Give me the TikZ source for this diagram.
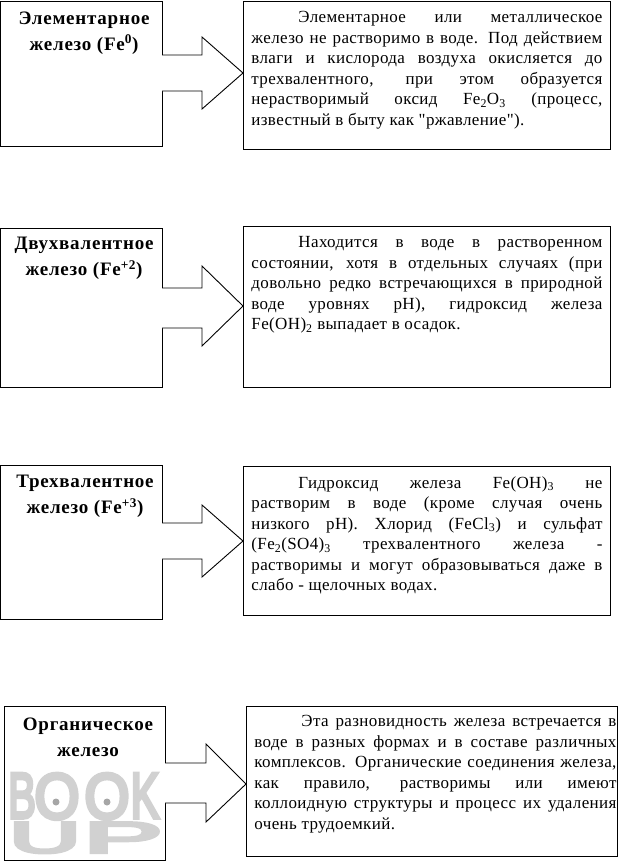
\documentclass[tikz,border=0pt]{standalone}
\usepackage{fontspec}
\setmainfont{Liberation Serif}
\newfontfamily\logofont[FakeBold=6]{Liberation Sans}
\newfontfamily\kindfont[LetterSpace=4]{Liberation Serif Bold}
\newfontfamily\notefont[LetterSpace=2.2]{Liberation Serif}
\begin{document}
\begin{tikzpicture}[x=1pt, y=-1pt, line width=0.9pt]

	\tikzset{
		cell/.style={draw, anchor=north west, inner sep=0pt},
		kind/.style={anchor=north, align=center, inner sep=0pt, font=\fontsize{19}{26}\kindfont},
		note/.style={anchor=north west, inner sep=0pt, text width=351pt, align=justify, font=\fontsize{17}{20.5}\notefont},
		logo/.style={anchor=north, inner sep=0pt, text=black!18, font=\logofont},
		hole/.style={circle, fill=white, minimum size=24pt, inner sep=0pt},
		eye/.style={circle, fill=black!35, minimum size=7pt, inner sep=0pt}
	}

	% ---------------------------
	% Helper macro: block arrow from left cell to right cell
	% (#1 left x, #2 neck x, #3 tip x, #4 tip y, #5 head top, #6 head bottom, #7 shaft top, #8 shaft bottom)
	% ---------------------------
	\newcommand{\drawfeed}[8]{%
		\draw[fill=white] (#1,#7) -- (#2,#7) -- (#2,#5) -- (#3,#4) -- (#2,#6) -- (#2,#8) -- (#1,#8);
	}

	\useasboundingbox (0,0) rectangle (629,863);

	% ---------------------------
	% Watermark
	% ---------------------------
	\foreach \i/\ch/\lx/\sx in {1/B/22/0.8, 2/O/57/1.12, 3/O/107/1.12, 4/K/145/0.82} {
		\node[logo, xscale=\sx, yscale=1.24] (logo\i) at (\lx,773) {\fontsize{52}{52}\selectfont \ch};
	}
	\foreach \i/\ch/\lx/\sx in {5/U/45/2.25, 6/P/123/2.7} {
		\node[logo, xscale=\sx, yscale=1.0] (logo\i) at (\lx,822) {\fontsize{44}{44}\selectfont \ch};
	}
	\node[hole] (holeA) at (57,799) {};
	\node[hole] (holeB) at (107,799) {};
	\node[eye] (eyeA) at (56,802) {};
	\node[eye] (eyeB) at (107,802) {};

	% ---------------------------
	% Left cells
	% ---------------------------
	\node[cell, minimum width=162pt, minimum height=145pt] (elem) at (0,1) {};
	\node[cell, minimum width=162pt, minimum height=159pt] (two) at (0,228) {};
	\node[cell, minimum width=162pt, minimum height=154pt] (three) at (0,465) {};
	\node[cell, minimum width=161pt, minimum height=154pt] (org) at (4,706) {};

	\node[kind] (elemT) at (84,11) {Элементарное\\железо (Fe\textsuperscript{0})};
	\node[kind] (twoT) at (84,237) {Двухвалентное\\железо (Fe\textsuperscript{+2})};
	\node[kind] (threeT) at (85,475) {Трехвалентное\\железо (Fe\textsuperscript{+3})};
	\node[kind] (orgT) at (88,717) {Органическое\\железо};

	% ---------------------------
	% Right cells
	% ---------------------------
	\node[cell, minimum width=367pt, minimum height=148pt] (elemR) at (243,1) {};
	\node[cell, minimum width=367pt, minimum height=161pt] (twoR) at (243,226) {};
	\node[cell, minimum width=367pt, minimum height=149pt] (threeR) at (243,466) {};
	\node[cell, minimum width=371pt, minimum height=150pt] (orgR) at (246,706) {};

	\node[note] (elemN) at (251,11) {\hspace*{47pt}Элементарное или металлическое\linebreak
		железо не растворимо в воде. Под действием\linebreak
		влаги и кислорода воздуха окисляется до\linebreak
		трехвалентного, при этом образуется\linebreak
		нерастворимый оксид Fe\textsubscript{2}O\textsubscript{3} (процесс,\linebreak
		известный в быту как \symbol{34}ржавление\symbol{34}).};
	\node[note] (twoN) at (251,236) {\hspace*{47pt}Находится в воде в растворенном\linebreak
		состоянии, хотя в отдельных случаях (при\linebreak
		довольно редко встречающихся в природной\linebreak
		воде уровнях рН), гидроксид железа\linebreak
		Fe(OH)\textsubscript{2} выпадает в осадок.};
	\node[note] (threeN) at (251,476) {\hspace*{47pt}Гидроксид железа Fe(OH)\textsubscript{3} не\linebreak
		растворим в воде (кроме случая очень\linebreak
		низкого рН). Хлорид (FeCl\textsubscript{3}) и сульфат\linebreak
		(Fe\textsubscript{2}(SO4)\textsubscript{3} трехвалентного железа -\linebreak
		растворимы и могут образовываться даже в\linebreak
		слабо - щелочных водах.};
	\node[note, text width=362pt] (orgN) at (254,715) {\hspace*{47pt}Эта разновидность железа встречается в\linebreak
		воде в разных формах и в составе различных\linebreak
		комплексов. Органические соединения железа,\linebreak
		как правило, растворимы или имеют\linebreak
		коллоидную структуры и процесс их удаления\linebreak
		очень трудоемкий.};

	% ---------------------------
	% Arrows
	% ---------------------------
	\drawfeed{162}{202}{243}{73}{37}{109}{55}{91}
	\drawfeed{162}{202}{243}{306}{266}{346}{288}{328}
	\drawfeed{162}{202}{243}{541}{505}{577}{523}{559}
	\drawfeed{165}{206}{246}{784}{744}{822}{763}{803}

\end{tikzpicture}
\end{document}
